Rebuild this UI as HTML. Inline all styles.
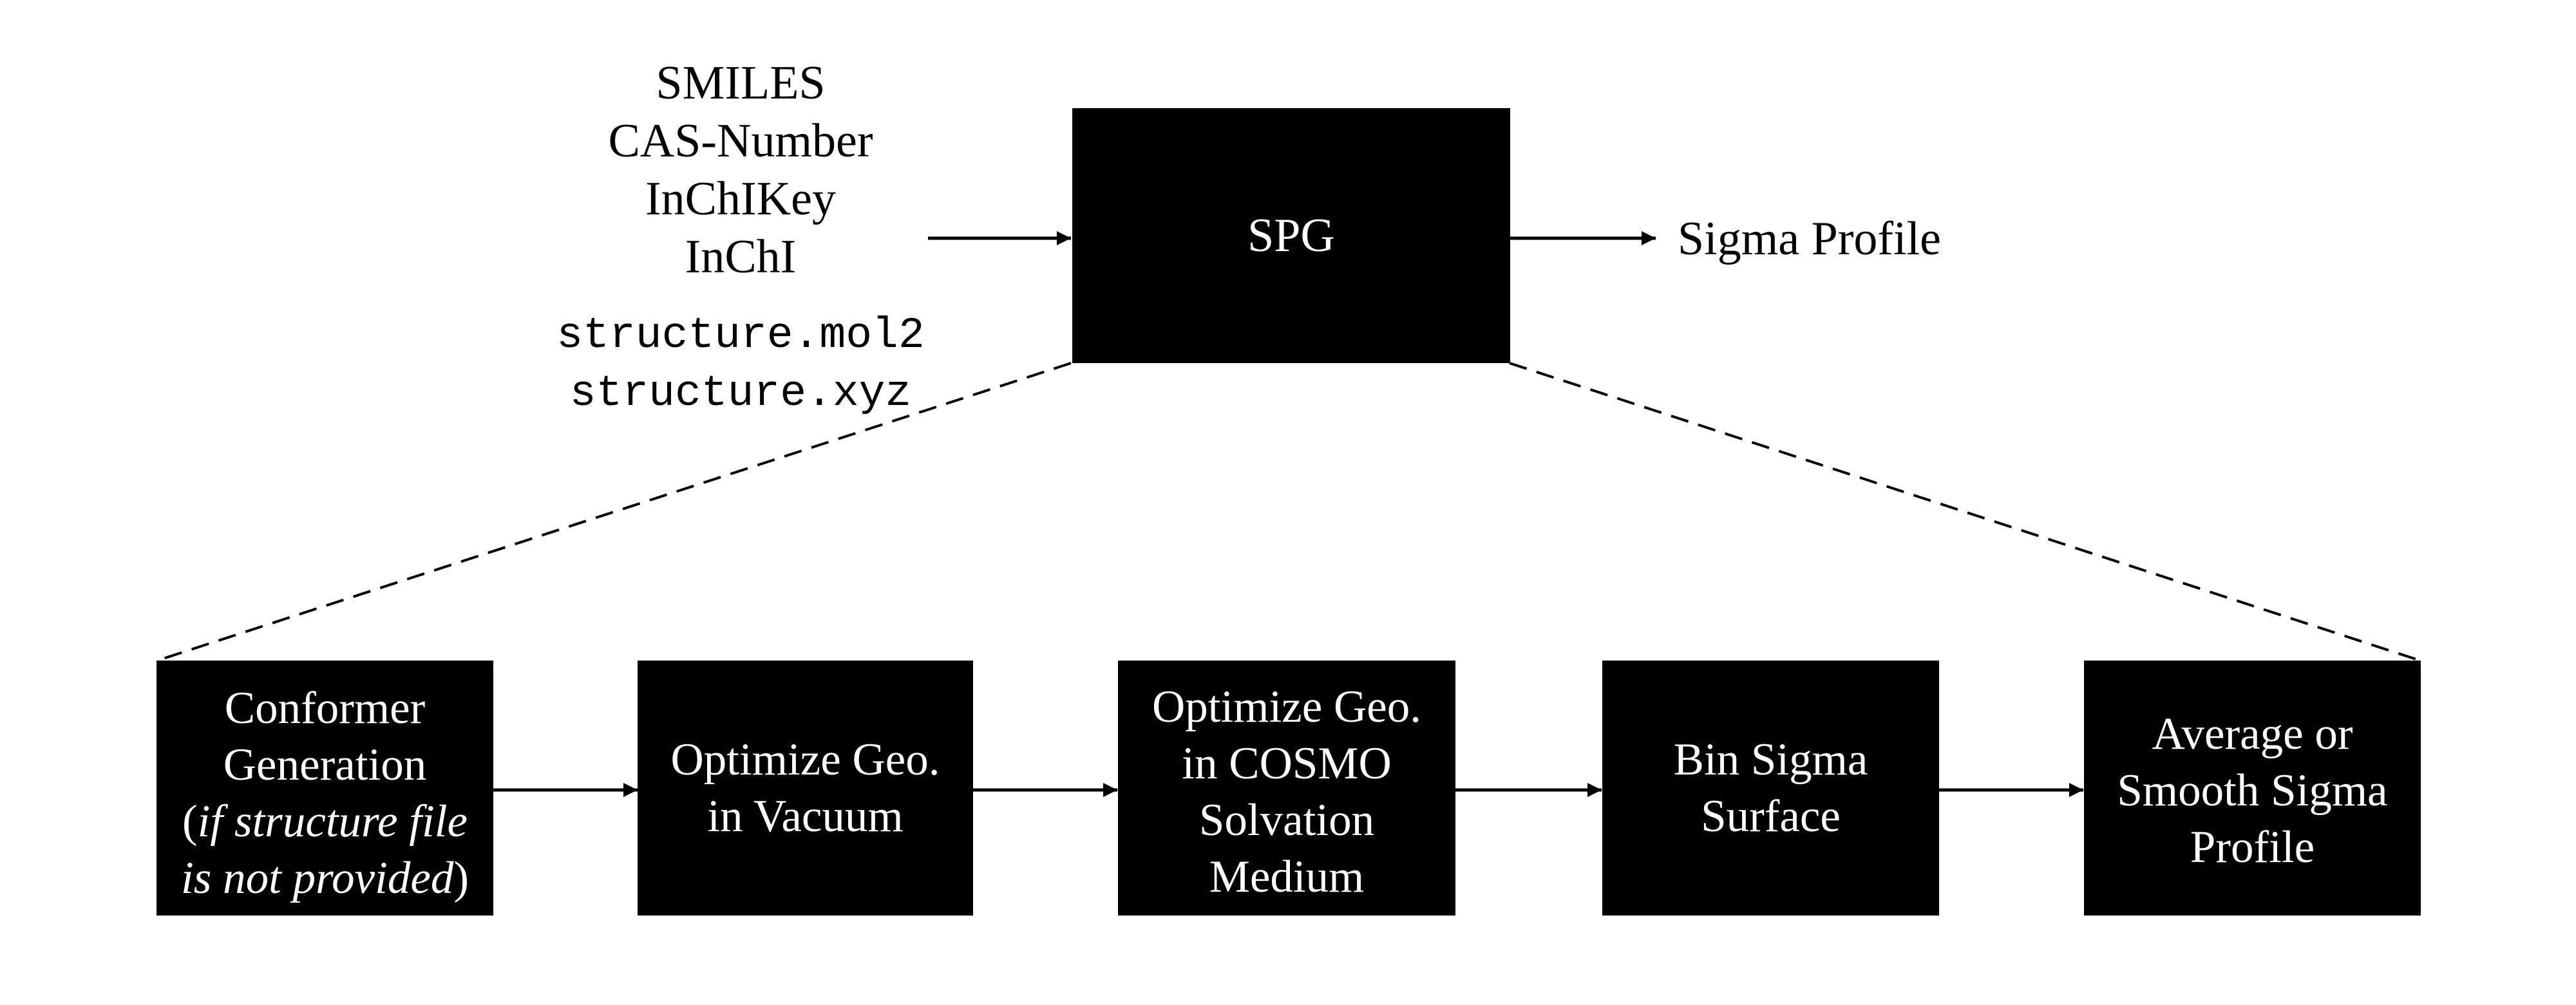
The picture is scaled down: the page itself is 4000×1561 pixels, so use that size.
<!DOCTYPE html>
<html><head><style>
body{margin:0;width:4000px;height:1561px;background:#fff;position:relative;overflow:hidden;font-family:"Liberation Serif",serif;}
.b{position:absolute;background:#000;color:#fff;display:flex;align-items:center;justify-content:center;text-align:center;font-size:71px;line-height:88px;}
.t{position:absolute;text-align:center;font-size:74px;line-height:90px;color:#000;white-space:nowrap;}
.m{font-family:"Liberation Mono",monospace;font-size:68px;line-height:90px;}
svg{position:absolute;left:0;top:0;}
</style></head><body>
<svg width="4000" height="1561">
<defs>
<marker id="A" viewBox="0 0 10 10" refX="10" refY="5" markerWidth="26" markerHeight="22" orient="auto" markerUnits="userSpaceOnUse"><path d="M0,0L10,5L0,10z" fill="#000"/></marker></defs>
<g stroke="#000" stroke-width="5" fill="none">
<line x1="1441" y1="370" x2="1663" y2="370" marker-end="url(#A)"/>
<line x1="2344" y1="370" x2="2571" y2="370" marker-end="url(#A)"/>
<line x1="765" y1="1227" x2="990" y2="1227" marker-end="url(#A)"/>
<line x1="1510" y1="1227" x2="1735" y2="1227" marker-end="url(#A)"/>
<line x1="2260" y1="1227" x2="2487" y2="1227" marker-end="url(#A)"/>
<line x1="3010" y1="1227" x2="3235" y2="1227" marker-end="url(#A)"/>
</g>
<g stroke="#000" stroke-width="4" stroke-dasharray="28,16" fill="none">
<line x1="1663" y1="564" x2="244" y2="1026"/>
<line x1="2344" y1="564" x2="3758" y2="1026"/>
</g>
</svg>
<div class="t" style="left:850px;top:84px;width:600px;">SMILES<br>CAS-Number<br>InChIKey<br>InChI</div>
<div class="t m" style="left:850px;top:477px;width:600px;">structure.mol2<br>structure.xyz</div>
<div class="b" style="left:1665px;top:168px;width:680px;height:396px;font-size:74px;">SPG</div>
<div class="t" style="left:2605px;top:326px;text-align:left;">Sigma Profile</div>
<div class="b" style="left:243px;top:1026px;width:523px;height:396px;"><div style="margin-top:16px">Conformer<br>Generation<br>(<i>if structure file<br>is not provided</i>)</div></div>
<div class="b" style="left:990px;top:1026px;width:521px;height:396px;"><div>Optimize Geo.<br>in Vacuum</div></div>
<div class="b" style="left:1736px;top:1026px;width:524px;height:396px;"><div style="margin-top:12px">Optimize Geo.<br>in COSMO<br>Solvation<br>Medium</div></div>
<div class="b" style="left:2488px;top:1026px;width:523px;height:396px;"><div>Bin Sigma<br>Surface</div></div>
<div class="b" style="left:3236px;top:1026px;width:523px;height:396px;"><div style="margin-top:8px">Average or<br>Smooth Sigma<br>Profile</div></div>
</body></html>
